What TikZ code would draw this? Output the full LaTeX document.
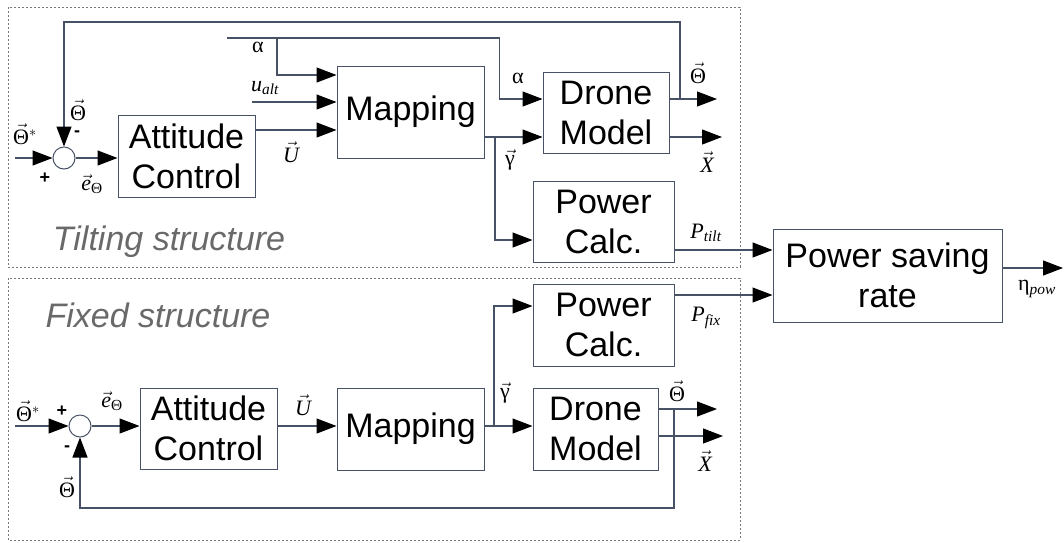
\documentclass[tikz,border=0pt]{standalone}
\usepackage{amsmath}
\usepackage{fontspec}
\setmainfont{Liberation Sans}
\newfontfamily\labfont{Liberation Serif}
\usetikzlibrary{arrows.meta}
\definecolor{wirec}{RGB}{72,82,102}
\definecolor{framec}{RGB}{120,120,120}
\definecolor{captc}{RGB}{105,105,105}
\newcommand{\vsym}[1]{$\vec{\text{#1}}$}

\begin{document}
\begin{tikzpicture}[x=1pt, y=-1pt,
  blk/.style={draw=wirec, line width=1pt, inner sep=0pt, align=center,
    font=\fontsize{34}{40}\selectfont},
  sumc/.style={circle, draw=wirec, line width=1pt, inner sep=0pt, minimum size=22pt},
  ln/.style={draw=wirec, line width=1.1pt},
  sig/.style={ln, -{Triangle[length=20pt, width=15pt, color=black]}},
  lbl/.style={font=\labfont\fontsize{22}{24}\selectfont, inner sep=0pt},
  sgn/.style={font=\bfseries\fontsize{18}{20}\selectfont, inner sep=0pt},
  grp/.style={draw=framec, line width=0.8pt, dash pattern=on 2pt off 2pt},
  capt/.style={font=\itshape\fontsize{34}{38}\selectfont, text=captc}]

\useasboundingbox (0,0) rectangle (1064,542);

% ---------- two groups
\draw[grp] (8,7) rectangle (740,267);
\draw[grp] (8,278) rectangle (740,540);
\node[capt] (capT) at (169,242) {Tilting structure};
\node[capt] (capB) at (158,315) {Fixed structure};

% ---------- tilting structure
\node[sumc] (sumT) at (64,158) {};
\node[blk, minimum width=137pt, minimum height=82pt] (attT) at (186.5,156) {Attitude\\Control};
\node[blk, minimum width=147pt, minimum height=92pt] (mapT) at (410.5,112) {Mapping};
\node[blk, minimum width=126pt, minimum height=81pt] (droT) at (606,112.5) {Drone\\Model};
\node[blk, minimum width=141pt, minimum height=81pt] (powT) at (603.5,221.5) {Power\\Calc.};

\coordinate (inT) at (15,158);
\coordinate (aSrc) at (227,38);
\coordinate (aBr) at (277,38);
\coordinate (uSrc) at (252,102);
\coordinate (gBrT) at (495,137);
\coordinate (fbT) at (680,99);
\coordinate (topT) at (64,22);
\coordinate (thT) at (717,99);
\coordinate (xT) at (722,137);

\draw[sig] (inT) -- (sumT.west);
\draw[sig] (sumT.east) -- (sumT.east -| attT.west);
\draw[sig] ([yshift=26pt]attT.east) -- ([yshift=-18pt]mapT.west);
\draw[sig] (uSrc) -- ([yshift=10pt]mapT.west);
\draw[ln]  (aSrc) -- (aBr);
\draw[sig] (aBr) |- ([yshift=37pt]mapT.west);
\draw[sig] (aBr) -| ([xshift=-43pt, yshift=13.5pt]droT.west) -- ([yshift=13.5pt]droT.west);
\draw[sig] ([yshift=-25pt]mapT.east) -- ([yshift=-24.5pt]droT.west);
\draw[sig] (gBrT) |- ([yshift=-18.5pt]powT.west);
\draw[sig] ([yshift=13.5pt]droT.east) -- (thT);
\draw[sig] ([yshift=-24.5pt]droT.east) -- (xT);
\draw[sig] (fbT) |- (topT) -- (sumT.north);

\node[lbl] (lThsT) at (25,134) {\vsym{Θ}$^{*}$};
\node[sgn] (lPlT)  at (45,178) {+};
\node[sgn] (lMiT)  at (77,134) {-};
\node[lbl] (lFbT)  at (78,110) {\vsym{Θ}};
\node[lbl] (lErT)  at (92,184) {$\vec{\text{\itshape e}}_{\text{Θ}}$};
\node[lbl] (lUT)   at (291,152) {\vsym{\itshape U}};
\node[lbl] (lAmT)  at (258,47) {α};
\node[lbl] (lUaT)  at (265,88) {$\text{\itshape u}_{\text{\itshape alt}}$};
\node[lbl] (lAdT)  at (518,78) {α};
\node[lbl] (lGT)   at (510,160) {\vsym{γ}};
\node[lbl] (lThT)  at (698,73) {\vsym{Θ}};
\node[lbl] (lXT)   at (707,162) {\vsym{\itshape X}};
\node[lbl] (lPT)   at (706,233) {\textit{P}$_{\text{\itshape tilt}}$};

% ---------- power saving rate
\node[blk, minimum width=229pt, minimum height=93pt] (psr) at (887.5,275.5) {Power saving\\rate};
\coordinate (etaOut) at (1063,268);
\draw[sig] ([yshift=-28.5pt]powT.east) -- ([yshift=25.5pt]psr.west);
\draw[sig] ([yshift=7.5pt]psr.east) -- (etaOut);
\node[lbl] (lEta) at (1037,289) {η$_{\text{\itshape pow}}$};

% ---------- fixed structure
\node[sumc] (sumB) at (80,426) {};
\node[blk, minimum width=137pt, minimum height=81pt] (attB) at (208.5,428.5) {Attitude\\Control};
\node[blk, minimum width=147pt, minimum height=82pt] (mapB) at (410.5,429) {Mapping};
\node[blk, minimum width=125pt, minimum height=82pt] (droB) at (595.5,429) {Drone\\Model};
\node[blk, minimum width=141pt, minimum height=82pt] (powB) at (603.5,325) {Power\\Calc.};

\coordinate (inB) at (15,426);
\coordinate (gBrB) at (494,426);
\coordinate (fbB) at (674,409);
\coordinate (botB) at (80,508);
\coordinate (thB) at (717,409);
\coordinate (xB) at (723,436);

\draw[sig] (inB) -- (sumB.west);
\draw[sig] (sumB.east) -- (sumB.east -| attB.west);
\draw[sig] (attB.east |- sumB) -- (mapB.west |- sumB);
\draw[sig] (mapB.east |- sumB) -- (droB.west |- sumB);
\draw[sig] (gBrB) |- ([yshift=19pt]powB.west);
\draw[sig] ([yshift=20pt]droB.east) -- (thB);
\draw[sig] ([yshift=-7pt]droB.east) -- (xB);
\draw[sig] (fbB) |- (botB) -- (sumB.south);
\draw[sig] ([yshift=30pt]powB.east) -- ([yshift=-19.5pt]psr.west);

\node[lbl] (lThsB) at (28,411) {\vsym{Θ}$^{*}$};
\node[sgn] (lPlB)  at (62,411) {+};
\node[sgn] (lMiB)  at (67,449) {-};
\node[lbl] (lFbB)  at (67,487) {\vsym{Θ}};
\node[lbl] (lErB)  at (112,401) {$\vec{\text{\itshape e}}_{\text{Θ}}$};
\node[lbl] (lUB)   at (303,405) {\vsym{\itshape U}};
\node[lbl] (lGB)   at (505,393) {\vsym{γ}};
\node[lbl] (lThB)  at (677,391) {\vsym{Θ}};
\node[lbl] (lXB)   at (705,461) {\vsym{\itshape X}};
\node[lbl] (lPB)   at (706,318) {\textit{P}$_{\text{\itshape fix}}$};
\end{tikzpicture}
\end{document}
